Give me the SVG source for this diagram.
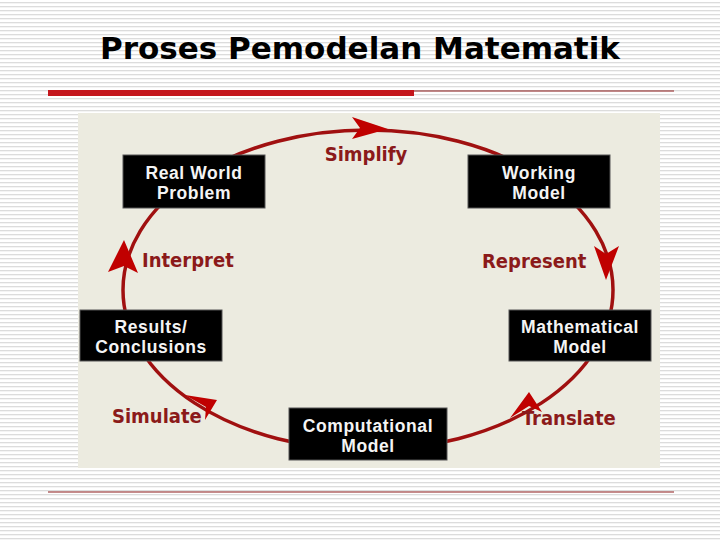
<svg xmlns="http://www.w3.org/2000/svg" width="720" height="540" viewBox="0 0 720 540">
<defs>
<pattern id="st" width="4" height="4" patternUnits="userSpaceOnUse"><rect width="4" height="4" fill="#ffffff"/><rect y="2" width="4" height="1.3" fill="#dcdcdc"/></pattern>
<style>
.box{fill:#000;stroke:#555;stroke-width:1}
.bt{font-family:"Liberation Sans",Arial,sans-serif;font-weight:bold;font-size:17.5px;letter-spacing:0.6px;fill:#f4f4f4;text-anchor:middle}
.lb{font-family:"DejaVu Sans Condensed","DejaVu Sans",sans-serif;font-weight:bold;font-size:20px;fill:#8b1a1a}
.ah{fill:#c00000}
</style>
</defs>
<rect width="720" height="540" fill="url(#st)"/>
<text x="360" y="59" font-family="DejaVu Sans,sans-serif" font-weight="bold" font-size="31" text-anchor="middle" fill="#000">Proses Pemodelan Matematik</text>
<rect x="48" y="90" width="366" height="6" fill="#c4161c"/>
<line x1="414" y1="91" x2="674" y2="91" stroke="#8b1a1a" stroke-width="1.2"/>
<line x1="48" y1="492" x2="674" y2="492" stroke="#8b1a1a" stroke-width="1.2"/>
<rect x="78" y="113" width="582" height="355" fill="#ecebe0"/>
<g id="connectors">
<ellipse cx="368" cy="290" rx="245" ry="160" fill="none" stroke="#a01010" stroke-width="3.5"/>
<polygon class="ah" points="352,117 388,129 352,139 360,128"/>
<polygon class="ah" points="594,246 606,280 619,246 606,254"/>
<polygon class="ah" points="510,418 529,392 542,412 529,406"/>
<polygon class="ah" points="185,395 217,400 205,420 206,407"/>
<polygon class="ah" points="108,272 124,240 138,273 124,266"/>
<text class="lb" x="366" y="161" text-anchor="middle">Simplify</text>
<text class="lb" x="482" y="268">Represent</text>
<text class="lb" x="522" y="425">Translate</text>
<text class="lb" x="112" y="423">Simulate</text>
<text class="lb" x="142" y="267">Interpret</text>
</g>
<g id="real"><rect class="box" x="123" y="155" width="142" height="53"/><text class="bt" x="194" y="179">Real World</text><text class="bt" x="194" y="199">Problem</text></g>
<g id="working"><rect class="box" x="468" y="155" width="142" height="53"/><text class="bt" x="539" y="179">Working</text><text class="bt" x="539" y="199">Model</text></g>
<g id="results"><rect class="box" x="80" y="310" width="142" height="51"/><text class="bt" x="151" y="333">Results/</text><text class="bt" x="151" y="353">Conclusions</text></g>
<g id="math"><rect class="box" x="509" y="310" width="142" height="51"/><text class="bt" x="580" y="333">Mathematical</text><text class="bt" x="580" y="353">Model</text></g>
<g id="comp"><rect class="box" x="289" y="408" width="158" height="52"/><text class="bt" x="368" y="432">Computational</text><text class="bt" x="368" y="452">Model</text></g>
</svg>
